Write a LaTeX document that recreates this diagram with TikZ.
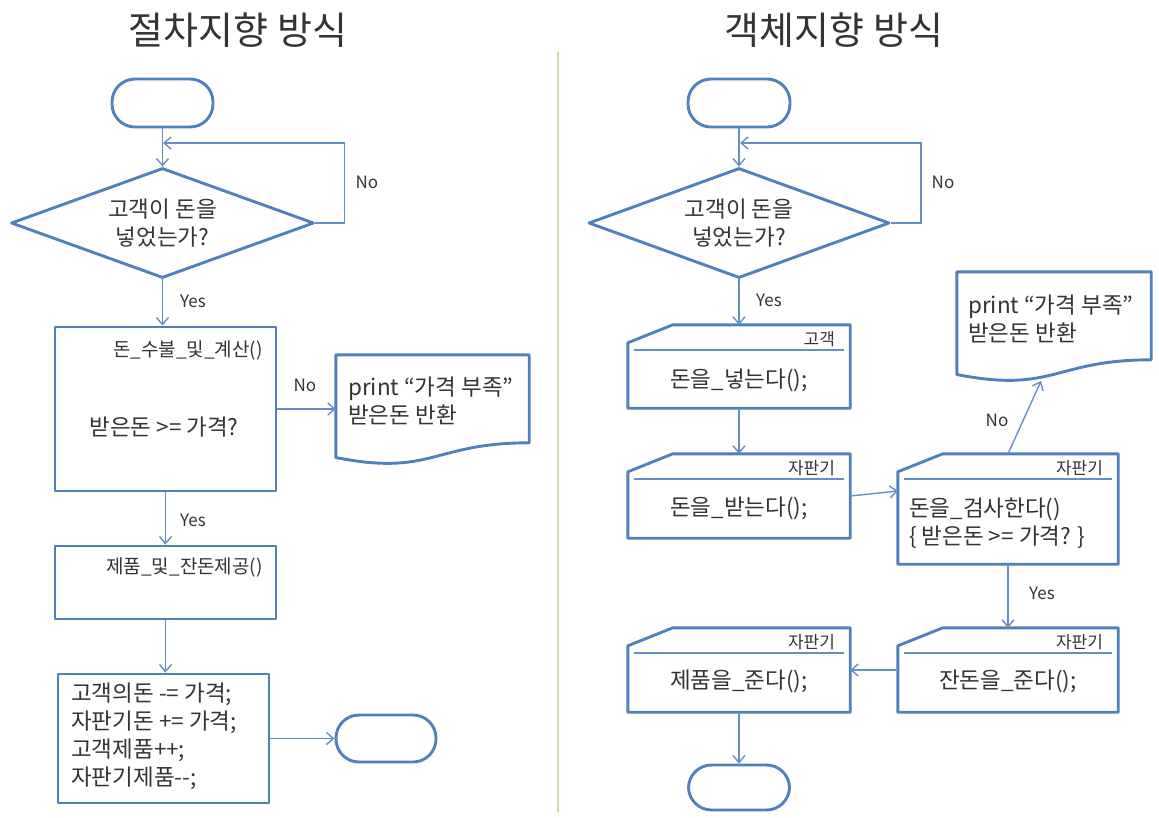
\documentclass[tikz,border=0pt]{standalone}
\usepackage{fontspec}
\setmainfont{Noto Sans CJK KR}
\usetikzlibrary{shapes.geometric,arrows.meta,calc}
\definecolor{shapeblue}{RGB}{79,129,189}
\definecolor{connblue}{RGB}{100,143,202}
\definecolor{txtgray}{RGB}{52,52,52}
\definecolor{divgreen}{RGB}{202,218,165}
\tikzset{
  shp/.style={draw=shapeblue, line width=2.9pt, line join=round},
  conn/.style={draw=connblue, line width=1.4pt, -{Straight Barb[length=7pt,width=12pt]}},
  innerline/.style={draw=connblue, line width=1.4pt},
  term/.style={shp, rectangle, rounded corners=23pt, inner sep=0pt},
  dia/.style={shp, diamond, shape aspect=2.75, inner sep=0pt, align=center,
              text=txtgray, font=\fontsize{22.5}{28}\selectfont},
  boxnode/.style={shp, rectangle, inner sep=0pt},
  cardnode/.style={rectangle, inner sep=0pt},
  maintext/.style={text=txtgray, inner sep=0pt, font=\fontsize{22.5}{28}\selectfont},
  smalltext/.style={text=txtgray, inner sep=0pt, font=\fontsize{17}{20}\selectfont},
  fntext/.style={text=txtgray, inner sep=0pt, font=\fontsize{19}{22}\selectfont},
  titletext/.style={text=txtgray, inner sep=0pt, font=\fontsize{38}{44}\selectfont}
}
\newcommand\drawcard[2]{%
  \draw[shp] ($(#1.north west)+(0,18)$) -- ($(#1.north west)+(45,0)$) -- (#1.north east)
     -- (#1.south east) -- (#1.south west) -- cycle;
  \draw[innerline] ($(#1.north west)+(6,25)$) -- ($(#1.north east)+(-6,25)$);
  \node[smalltext, anchor=east] (#1lbl) at ($(#1.north east)+(-15,14)$) {#2};
}
\begin{document}
\begin{tikzpicture}[x=1pt,y=-1pt]
\useasboundingbox (0,0) rectangle (1159,817);
\fill[white] (0,0) rectangle (1159,817);

% titles
\node[titletext] (t1) at (238,30) {절차지향 방식};
\node[titletext] (t2) at (834,30) {객체지향 방식};

% divider
\coordinate (dvtop) at (558,52);
\coordinate (dvbot) at (558,812);
\draw[divgreen, line width=2pt] (dvtop) -- (dvbot);

% ===== left: procedural =====
\node[term, minimum width=101pt, minimum height=48pt] (s1) at (162.5,103) {};
\node[dia, minimum width=303pt, minimum height=110pt] (d1) at (162.5,223) {고객이 돈을\\넣었는가?};
\node[boxnode, minimum width=221pt, minimum height=164pt] (r1) at (165.5,409) {};
\node[fntext, anchor=east] (r1a) at (263,350) {돈\_수불\_및\_계산()};
\node[maintext] (r1b) at (164,427) {받은돈 >= 가격?};
\node[cardnode, minimum width=193pt, minimum height=110pt] (doc1) at (432.5,410) {};
\draw[shp] (doc1.north west) -- (doc1.north east) -- ($(doc1.north east)+(0,88)$)
   .. controls ($(doc1.north)+(0,88)$) and ($(doc1.north)+(0,121.8)$) .. ($(doc1.north west)+(0,102.7)$) -- cycle;
\node[maintext, anchor=west, align=left] (doc1t) at (348,401) {print “가격 부족”\\받은돈 반환};
\node[boxnode, minimum width=221pt, minimum height=73pt] (r2) at (165.5,582.5) {};
\node[fntext, anchor=east] (r2a) at (263,567) {제품\_및\_잔돈제공()};
\node[boxnode, minimum width=211pt, minimum height=129pt] (r3) at (163.5,738.5) {};
\node[maintext, anchor=west, align=left] (r3t) at (71,736.5) {고객의돈 -= 가격;\\자판기돈 += 가격;\\고객제품++;\\자판기제품-{}-;};
\node[term, minimum width=100pt, minimum height=47pt] (e1) at (386,738.5) {};

\coordinate (lj1) at (163,143);
\draw[conn] (s1.south) -- (d1.north);
\draw[conn] (d1.east) -- ++(29,0) |- (lj1);
\node[smalltext] (no1) at (367,182) {No};
\draw[conn] (d1.south) -- (d1.south |- r1.north);
\node[smalltext] (yes1) at (193,301) {Yes};
\draw[conn] (r1.east) -- (doc1.west |- r1.east);
\node[smalltext] (no2) at (305,385) {No};
\draw[conn] (r1.south) -- (r2.north);
\node[smalltext] (yes2) at (193,520) {Yes};
\draw[conn] (r2.south) -- (r2.south |- r3.north);
\draw[conn] (r3.east) -- (e1.west);

% ===== right: object oriented =====
\node[term, minimum width=102pt, minimum height=48pt] (s2) at (739,103) {};
\node[dia, minimum width=301pt, minimum height=110pt] (d2) at (739,223) {고객이 돈을\\넣었는가?};
\node[cardnode, minimum width=194pt, minimum height=110pt] (doc2) at (1054,327) {};
\draw[shp] (doc2.north west) -- (doc2.north east) -- ($(doc2.north east)+(0,88)$)
   .. controls ($(doc2.north)+(0,88)$) and ($(doc2.north)+(0,121.8)$) .. ($(doc2.north west)+(0,102.7)$) -- cycle;
\node[maintext, anchor=west, align=left] (doc2t) at (968,318.5) {print “가격 부족”\\받은돈 반환};
\coordinate (dtip) at (1041,381);

\node[cardnode, minimum width=222pt, minimum height=83pt] (c1) at (739,366.5) {};
\drawcard{c1}{고객}
\node[maintext] (c1t) at (739,380) {돈을\_넣는다();};

\node[cardnode, minimum width=222pt, minimum height=84pt] (c2) at (739,496) {};
\drawcard{c2}{자판기}
\node[maintext] (c2t) at (739,508) {돈을\_받는다();};

\node[cardnode, minimum width=220pt, minimum height=110pt] (c3) at (1008,509) {};
\drawcard{c3}{자판기}
\node[maintext, anchor=west, align=left] (c3t) at (909,523.5) {돈을\_검사한다()\\\{ 받은돈 >= 가격? \}};

\node[cardnode, minimum width=220pt, minimum height=84pt] (c4) at (1008,670) {};
\drawcard{c4}{자판기}
\node[maintext] (c4t) at (1008,681) {잔돈을\_준다();};

\node[cardnode, minimum width=222pt, minimum height=84pt] (c5) at (739,670) {};
\drawcard{c5}{자판기}
\node[maintext] (c5t) at (739,681) {제품을\_준다();};

\node[term, minimum width=101pt, minimum height=45pt] (e2) at (739,787.5) {};

\coordinate (lj2) at (740,143);
\draw[conn] (s2.south) -- (d2.north);
\draw[conn] (d2.east) -- ++(30,0) |- (lj2);
\node[smalltext] (no3) at (943,182) {No};
\draw[conn] (d2.south) -- (c1.north);
\node[smalltext] (yes3) at (769,300) {Yes};
\draw[conn] (c1.south) -- (c2.north);
\draw[conn] (c2.east) -- ([yshift=18pt]c3.west);
\draw[conn] (c3.north) -- (dtip);
\node[smalltext] (no4) at (997,420) {No};
\draw[conn] (c3.south) -- (c4.north);
\node[smalltext] (yes4) at (1042,593) {Yes};
\draw[conn] (c4.west) -- (c5.east);
\draw[conn] (c5.south) -- (e2.north);
\end{tikzpicture}
\end{document}
